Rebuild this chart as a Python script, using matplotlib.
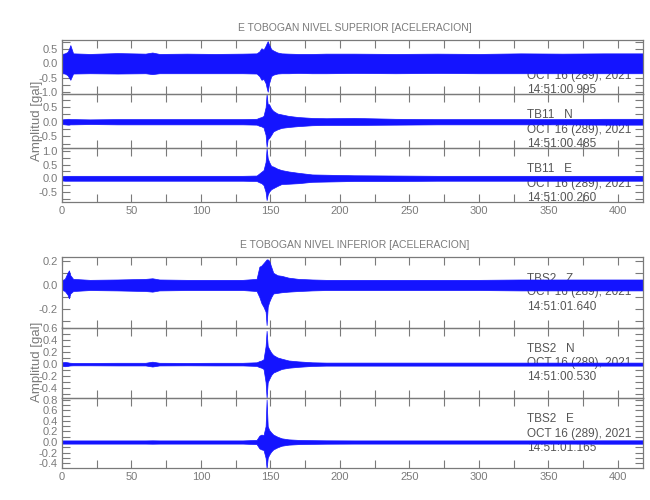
import matplotlib
matplotlib.use("Agg")
import matplotlib.pyplot as plt
from matplotlib.ticker import MultipleLocator, FormatStrFormatter

# ---------------- data (envelopes) ----------------
T = [0, 2, 4, 5, 6, 8, 20, 40, 60, 65, 70, 90, 110, 130, 140, 142, 143.5, 145,
     146.5, 147.2, 148, 149, 150.5, 152, 155, 158, 163, 170, 180, 190, 210, 240,
     270, 300, 330, 360, 390, 418]

tb11_z_up = [0.33, 0.35, 0.40, 0.50, 0.64, 0.35, 0.33, 0.36, 0.34, 0.38, 0.33, 0.34, 0.33,
             0.34, 0.35, 0.42, 0.53, 0.48, 0.62, 0.70, 0.78, 0.65, 0.50, 0.45, 0.38, 0.35,
             0.34, 0.33, 0.33, 0.34, 0.34, 0.33, 0.34, 0.33, 0.35, 0.34, 0.35, 0.35]
tb11_z_lo = [-0.35, -0.36, -0.42, -0.50, -0.58, -0.36, -0.35, -0.36, -0.35, -0.38, -0.35, -0.35, -0.35,
             -0.35, -0.36, -0.45, -0.58, -0.55, -0.70, -0.85, -1.00, -0.70, -0.45, -0.40, -0.36, -0.35,
             -0.35, -0.34, -0.35, -0.35, -0.34, -0.35, -0.34, -0.35, -0.35, -0.35, -0.35, -0.35]

tb11_n_up = [0.08, 0.09, 0.10, 0.10, 0.09, 0.09, 0.08, 0.09, 0.09, 0.09, 0.09, 0.09, 0.09,
             0.09, 0.10, 0.14, 0.16, 0.20, 0.50, 0.95, 0.60, 0.60, 0.45, 0.37, 0.28, 0.25,
             0.20, 0.16, 0.13, 0.12, 0.13, 0.10, 0.09, 0.09, 0.09, 0.09, 0.10, 0.10]
tb11_n_lo = [-0.08, -0.09, -0.10, -0.10, -0.09, -0.09, -0.08, -0.09, -0.09, -0.09, -0.09, -0.09, -0.09,
             -0.09, -0.10, -0.14, -0.16, -0.20, -0.45, -0.86, -0.60, -0.56, -0.45, -0.33, -0.26, -0.21,
             -0.18, -0.15, -0.12, -0.11, -0.11, -0.10, -0.09, -0.09, -0.09, -0.09, -0.10, -0.10]

tb11_e_up = [0.08, 0.09, 0.09, 0.09, 0.09, 0.09, 0.09, 0.09, 0.09, 0.09, 0.09, 0.09, 0.09,
             0.09, 0.10, 0.18, 0.24, 0.30, 0.60, 1.10, 0.74, 0.60, 0.45, 0.43, 0.35, 0.30,
             0.25, 0.20, 0.14, 0.13, 0.11, 0.10, 0.09, 0.09, 0.09, 0.09, 0.09, 0.09]
tb11_e_lo = [-0.08, -0.09, -0.09, -0.09, -0.09, -0.09, -0.09, -0.09, -0.09, -0.09, -0.09, -0.09, -0.09,
             -0.09, -0.10, -0.15, -0.18, -0.25, -0.50, -0.80, -0.60, -0.49, -0.40, -0.36, -0.28, -0.21,
             -0.20, -0.18, -0.13, -0.12, -0.10, -0.10, -0.09, -0.09, -0.09, -0.09, -0.09, -0.09]

tbs2_z_up = [0.04, 0.05, 0.10, 0.12, 0.08, 0.05, 0.042, 0.045, 0.05, 0.055, 0.045, 0.042, 0.042,
             0.042, 0.05, 0.15, 0.16, 0.18, 0.20, 0.21, 0.21, 0.20, 0.15, 0.10, 0.08, 0.075,
             0.06, 0.05, 0.045, 0.042, 0.042, 0.042, 0.042, 0.042, 0.045, 0.045, 0.045, 0.045]
tbs2_z_lo = [-0.04, -0.05, -0.08, -0.11, -0.07, -0.05, -0.042, -0.045, -0.05, -0.055, -0.045, -0.042, -0.042,
             -0.042, -0.05, -0.10, -0.15, -0.18, -0.22, -0.33, -0.18, -0.14, -0.10, -0.07, -0.065, -0.06,
             -0.055, -0.05, -0.045, -0.042, -0.042, -0.042, -0.042, -0.042, -0.045, -0.045, -0.045, -0.045]

tbs2_n_up = [0.03, 0.035, 0.03, 0.025, 0.022, 0.02, 0.02, 0.022, 0.022, 0.04, 0.022, 0.02, 0.022,
             0.022, 0.03, 0.05, 0.06, 0.08, 0.30, 0.55, 0.30, 0.25, 0.19, 0.15, 0.11, 0.09,
             0.06, 0.045, 0.03, 0.025, 0.025, 0.025, 0.025, 0.025, 0.025, 0.025, 0.025, 0.025]
tbs2_n_lo = [-0.03, -0.035, -0.03, -0.025, -0.022, -0.02, -0.02, -0.022, -0.022, -0.04, -0.022, -0.02, -0.022,
             -0.022, -0.03, -0.05, -0.06, -0.08, -0.30, -0.56, -0.30, -0.25, -0.18, -0.14, -0.11, -0.08,
             -0.06, -0.045, -0.03, -0.025, -0.025, -0.025, -0.025, -0.025, -0.025, -0.025, -0.025, -0.025]

tbs2_e_up = [0.03, 0.03, 0.03, 0.03, 0.03, 0.03, 0.03, 0.03, 0.03, 0.032, 0.03, 0.03, 0.03,
             0.03, 0.04, 0.12, 0.14, 0.13, 0.30, 0.80, 0.30, 0.23, 0.18, 0.14, 0.10, 0.07,
             0.05, 0.04, 0.035, 0.032, 0.03, 0.03, 0.03, 0.03, 0.03, 0.03, 0.032, 0.032]
tbs2_e_lo = [-0.03, -0.03, -0.03, -0.03, -0.03, -0.03, -0.03, -0.03, -0.03, -0.032, -0.03, -0.03, -0.03,
             -0.03, -0.04, -0.12, -0.14, -0.15, -0.30, -0.50, -0.30, -0.24, -0.18, -0.14, -0.10, -0.07,
             -0.05, -0.04, -0.035, -0.032, -0.03, -0.03, -0.03, -0.03, -0.03, -0.03, -0.032, -0.032]

titles = ["E TOBOGAN NIVEL SUPERIOR [ACELERACION]", "E TOBOGAN NIVEL INFERIOR [ACELERACION]"]
stations = ["TB11   Z", "TB11   N", "TB11   E", "TBS2   Z", "TBS2   N", "TBS2   E"]
date_label = "OCT 16 (289), 2021"
start_times = ["14:51:00.995", "14:51:00.485", "14:51:00.260",
               "14:51:01.640", "14:51:00.530", "14:51:01.165"]
ylabel = "Amplitud [gal]"

uppers = [tb11_z_up, tb11_n_up, tb11_e_up, tbs2_z_up, tbs2_n_up, tbs2_e_up]
lowers = [tb11_z_lo, tb11_n_lo, tb11_e_lo, tbs2_z_lo, tbs2_n_lo, tbs2_e_lo]
ylims = [(-1.08, 0.82), (-0.90, 0.95), (-0.87, 1.11),
         (-0.35, 0.23), (-0.56, 0.605), (-0.49, 0.83)]
ysteps = [0.5, 0.5, 0.5, 0.2, 0.2, 0.2]
XMAX = 418

plt.rcParams["font.family"] = ["Liberation Sans", "DejaVu Sans"]

GRAY = "#7a7a7a"
TXT = "#555555"
BLUE = "#1414ff"

W, H = 650, 500
fig = plt.figure(figsize=(6.5, 5.0), dpi=100)

left, right = 62, 643
edges = [(40, 94), (94, 148), (148, 202), (257, 327.5), (327.5, 398), (398, 468)]

for i, (top, bot) in enumerate(edges):
    ax = fig.add_axes([left / W, 1 - bot / H, (right - left) / W, (bot - top) / H])
    ax.fill_between(T, lowers[i], uppers[i], color=BLUE, linewidth=0.5,
                    edgecolor=BLUE, zorder=2)
    ax.set_xlim(0, XMAX)
    ax.set_ylim(*ylims[i])
    ax.xaxis.set_major_locator(MultipleLocator(50))
    ax.xaxis.set_minor_locator(MultipleLocator(25))
    ax.yaxis.set_major_locator(MultipleLocator(ysteps[i]))
    ax.yaxis.set_minor_locator(MultipleLocator(ysteps[i] / 2))
    ax.yaxis.set_major_formatter(FormatStrFormatter("%.1f"))
    ax.tick_params(which="both", direction="in", top=True, right=True,
                   colors=GRAY, labelcolor=GRAY, labelsize=8, width=0.8)
    ax.tick_params(which="major", length=6, pad=3)
    ax.tick_params(which="minor", length=6)
    for s in ax.spines.values():
        s.set_color(GRAY)
        s.set_linewidth(0.9)
    if i not in (2, 5):
        ax.tick_params(axis="x", labelbottom=False)
    ax.patch.set_alpha(0)
    xf = (527 - left) / (right - left)
    for txt, off in [(stations[i], 21.5), (date_label, 35.5), (start_times[i], 50)]:
        ax.annotate(txt, xy=(xf, 1), xycoords="axes fraction",
                    xytext=(0, -off), textcoords="offset pixels",
                    ha="left", va="center", fontsize=8.5, color=TXT, zorder=1)

fig.text(355 / W, 1 - 28 / H, titles[0], ha="center", va="center",
         fontsize=7.5, color=GRAY)
fig.text(355 / W, 1 - 245 / H, titles[1], ha="center", va="center",
         fontsize=7.5, color=GRAY)
fig.text(37 / W, 1 - 121 / H, ylabel, rotation=90, ha="center", va="center",
         fontsize=9.5, color=GRAY)
fig.text(37 / W, 1 - 362 / H, ylabel, rotation=90, ha="center", va="center",
         fontsize=9.5, color=GRAY)

fig.savefig("out.png", dpi=100)
